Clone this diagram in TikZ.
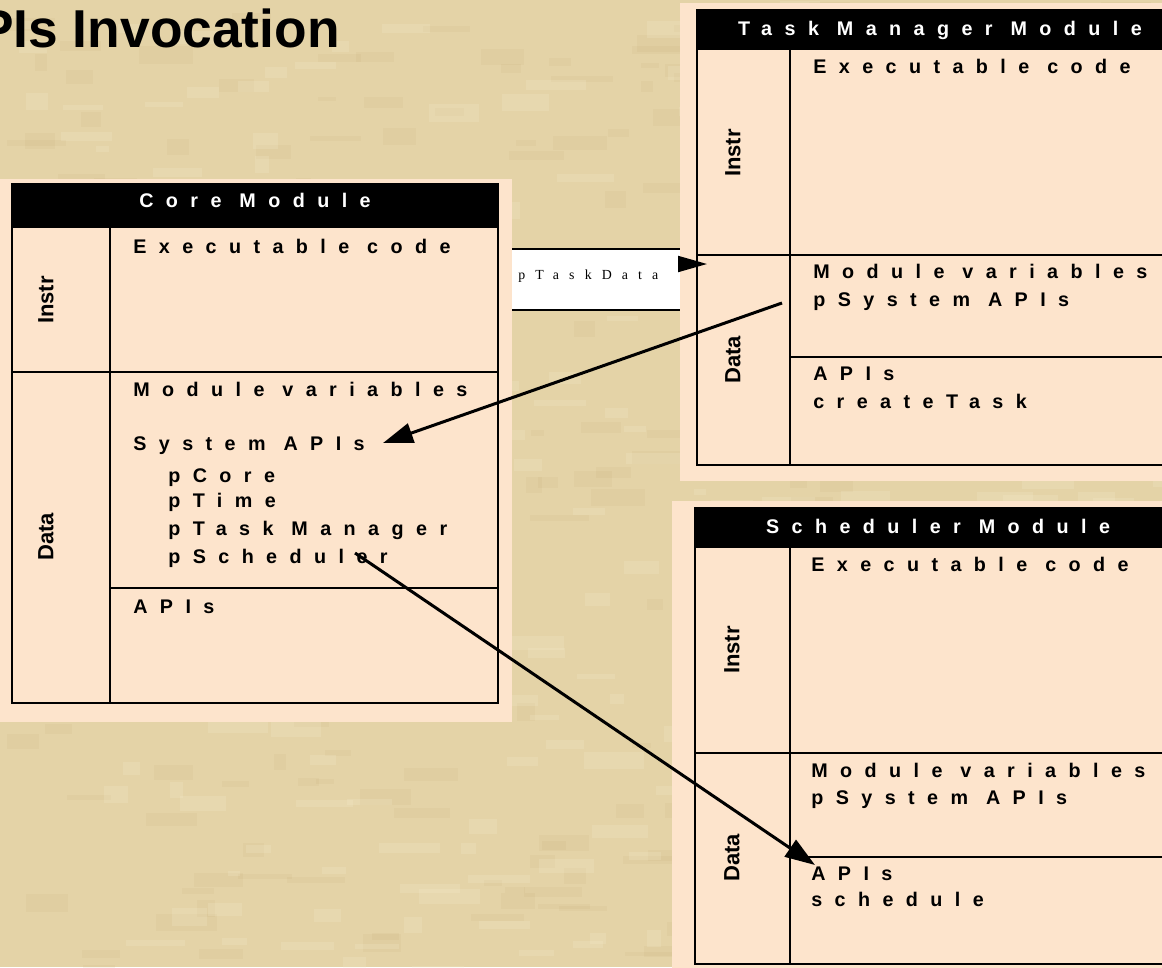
\documentclass[tikz,border=0pt]{standalone}
\usepackage{fontspec}
\setmainfont{Liberation Sans}
\newfontfamily\tracked{Liberation Sans}[LetterSpace=63]
\newfontfamily\trackedserif{Liberation Serif}[LetterSpace=73]
\usetikzlibrary{arrows.meta}

\definecolor{parch}{RGB}{228,211,167}
\definecolor{parchdark}{RGB}{200,174,122}
\definecolor{parchlight}{RGB}{246,236,208}
\definecolor{panel}{RGB}{253,228,204}

\tikzset{
  cell/.style={anchor=base west, inner sep=0pt,
    font=\tracked\bfseries\fontsize{14.8}{17}\selectfont},
  headtext/.style={anchor=base, inner sep=0pt, text=white,
    font=\tracked\bfseries\fontsize{14.8}{17}\selectfont},
  side/.style={rotate=90, inner sep=0pt,
    font=\bfseries\fontsize{16.5}{19}\selectfont},
  outerline/.style={line width=2.1pt},
  innerline/.style={line width=1.6pt},
  call/.style={line width=2.25pt, -{Triangle[length=22.5pt,width=15pt]}},
}

\begin{document}
\begin{tikzpicture}[x=0.75pt, y=-0.75pt]
\useasboundingbox (0,0) rectangle (1162,967);
\clip (0,0) rectangle (1162,967);

% parchment background
\fill[parch] (0,0) rectangle (1162,967);
\pgfmathsetseed{17}
\foreach \i in {1,...,300}{
  \pgfmathsetmacro\xx{rnd*1162}
  \pgfmathsetmacro\yy{rnd*967}
  \pgfmathsetmacro\ww{12+rnd*50}
  \pgfmathsetmacro\hh{4+rnd*14}
  \fill[parchdark, opacity=0.13] (\xx,\yy) rectangle ++(\ww,\hh);
}
\foreach \i in {1,...,300}{
  \pgfmathsetmacro\xx{rnd*1162}
  \pgfmathsetmacro\yy{rnd*967}
  \pgfmathsetmacro\ww{12+rnd*50}
  \pgfmathsetmacro\hh{4+rnd*14}
  \fill[parchlight, opacity=0.2] (\xx,\yy) rectangle ++(\ww,\hh);
}

% title
\node[anchor=base east, inner sep=0pt, font=\bfseries\fontsize{40}{48}\selectfont]
  (title) at (340,47) {APIs Invocation};

% ---------- Core module ----------
\fill[panel] (-5,179) rectangle (512,722);
\fill[black] (12,184) rectangle (498,228);
\draw[innerline] (12,372) -- (498,372);
\draw[innerline] (110,588) -- (498,588);
\draw[innerline] (110,228) -- (110,703);
\draw[outerline] (12,184) rectangle (498,703);
\node[headtext] (corehead) at (255,207) {Core Module};
\node[side] (coreinstr) at (46,300) {Instr};
\node[side] (coredata) at (46,537) {Data};
\node[cell] (coreexe) at (133,253) {Executable code};
\node[cell] (corevars) at (133,396) {Module variables};
\node[cell] (coresys) at (133,450) {System APIs};
\node[cell] (corepcore) at (168,482) {pCore};
\node[cell] (coreptime) at (168,507) {pTime};
\node[cell] (coreptm) at (168,535) {pTask Manager};
\node[cell] (corepsch) at (168,563) {pScheduler};
\node[cell] (coreapis) at (133,613) {APIs};

% ---------- Task Manager module ----------
\fill[panel] (680,3) rectangle (1170,481);
\fill[black] (697,10) rectangle (1183,50);
\draw[innerline] (697,255) -- (1183,255);
\draw[innerline] (790,357) -- (1183,357);
\draw[innerline] (790,50) -- (790,465);
\draw[outerline] (697,10) rectangle (1183,465);
\node[headtext] (tmhead) at (940,35) {Task Manager Module};
\node[side] (tminstr) at (733,153) {Instr};
\node[side] (tmdata) at (733,360) {Data};
\node[cell] (tmexe) at (813,73) {Executable code};
\node[cell] (tmvars) at (813,278) {Module variables};
\node[cell] (tmpsys) at (813,306) {pSystem APIs};
\node[cell] (tmapis) at (813,380) {APIs};
\node[cell] (tmcreate) at (813,408) {createTask};

% ---------- Scheduler module ----------
\fill[panel] (672,501) rectangle (1170,975);
\fill[black] (695,508) rectangle (1181,548);
\draw[innerline] (695,753) -- (1181,753);
\draw[innerline] (790,857) -- (1181,857);
\draw[innerline] (790,548) -- (790,964);
\draw[outerline] (695,508) rectangle (1181,964);
\node[headtext] (smhead) at (938,533) {Scheduler Module};
\node[side] (sminstr) at (732,650) {Instr};
\node[side] (smdata) at (732,858) {Data};
\node[cell] (smexe) at (811,571) {Executable code};
\node[cell] (smvars) at (811,777) {Module variables};
\node[cell] (smpsys) at (811,804) {pSystem APIs};
\node[cell] (smapis) at (811,880) {APIs};
\node[cell] (smsched) at (811,906) {schedule};

% ---------- pTaskData strip ----------
\fill[white] (512,249) rectangle (680,310);
\draw[innerline] (512,249) -- (680,249);
\draw[innerline] (512,310) -- (680,310);
\node[anchor=base west, inner sep=0pt,
  font=\trackedserif\fontsize{10.4}{12}\selectfont] (ptaskdata) at (518,279) {pTaskData};

% ---------- connectors ----------
\coordinate (stripend) at (678,264);
\coordinate (tmdatain) at (707,264);
\draw[line width=1.5pt, -{Triangle[length=21.75pt,width=12pt]}] (stripend) -- (tmdatain);

\coordinate (tmsysout) at (782,303);
\coordinate (coresysin) at (383,443);
\draw[call] (tmsysout) -- (coresysin);

\coordinate (coreschout) at (355,553);
\coordinate (smapisin) at (815,865);
\draw[call] (coreschout) -- (smapisin);
\end{tikzpicture}
\end{document}
